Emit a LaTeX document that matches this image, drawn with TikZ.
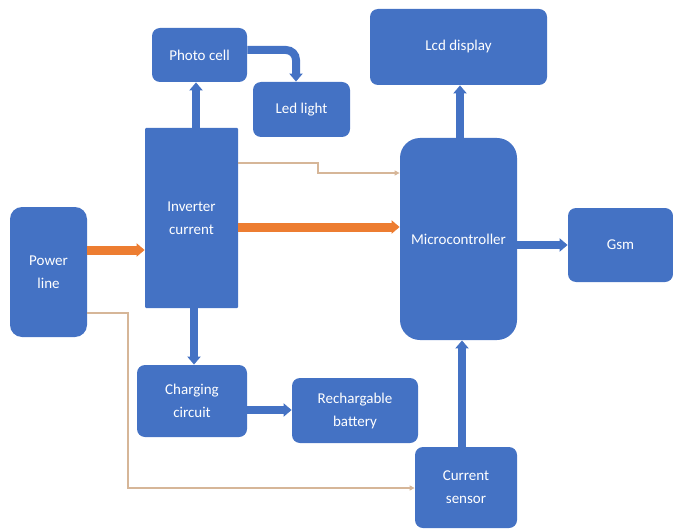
\documentclass[tikz,border=0pt]{standalone}
\usepackage{fontspec}
\setmainfont{Carlito}
\usetikzlibrary{arrows.meta,calc}
\definecolor{boxblue}{HTML}{4472C4}
\definecolor{feedorange}{HTML}{ED7D31}
\definecolor{thinline}{RGB}{214,182,152}
\tikzset {>=Stealth}
\tikzset{
  block/.style={fill=boxblue,text=white,rounded corners=4pt,align=center,
    inner sep=0pt,font=\fontsize{7.5}{11.5}\selectfont},
  flow/.style={draw=boxblue,line width=4pt,-{Triangle[length=4pt,width=6.5pt]}},
  feed/.style={draw=feedorange,line width=4.5pt,-{Triangle[length=4pt,width=6.5pt]}},
  sense/.style={draw=thinline,line width=.7pt,-{Triangle[length=2.5pt,width=2.5pt]}}
}
\begin{document}
\begin{tikzpicture}[x=.5pt,y=-.5pt]
\useasboundingbox (0,0) rectangle (673,529);
% blocks
\node[block,rounded corners=6pt,minimum width=38.5pt,minimum height=65pt]
  (pline) at (48.5,272) {Power\\line};
\node[block,rounded corners=.5pt,minimum width=46.5pt,minimum height=90pt]
  (inverter) at (191.5,218) {Inverter\\current};
\node[block,minimum width=47.5pt,minimum height=27pt]
  (photo) at (199.5,55) {Photo cell};
\node[block,minimum width=48.5pt,minimum height=27.5pt]
  (led) at (301.5,109.5) {Led light};
\node[block,minimum width=88.5pt,minimum height=38pt]
  (lcd) at (458.5,47) {Lcd display};
\node[block,rounded corners=10pt,minimum width=58.5pt,minimum height=101pt]
  (micro) at (458.5,239) {Microcontroller};
\node[block,minimum width=52.5pt,minimum height=37pt]
  (gsm) at (620.5,245) {Gsm};
\node[block,minimum width=55pt,minimum height=36pt]
  (charging) at (192,401) {Charging\\circuit};
\node[block,minimum width=63pt,minimum height=32.5pt]
  (battery) at (355,410.5) {Rechargable\\battery};
\node[block,minimum width=51pt,minimum height=40.5pt]
  (sensor) at (466,487.5) {Current\\sensor};
% power flow
\draw[feed] (pline.east |- 0,250) -- (inverter.west |- 0,250);
\draw[feed] (inverter.east |- 0,227) -- (micro.west |- 0,227);
% thin sense lines
\draw[sense] (inverter.east |- 0,163) -- (318,163) -- (318,173)
  -- (micro.west |- 0,173);
\draw[sense] (pline.east |- 0,313) -- (128,313) -- (128,488)
  -- (sensor.west |- 0,488);
% control flow
\draw[flow] (inverter.north -| 196,0) -- (photo.south -| 196,0);
\draw[flow,rounded corners=5pt] (photo.east |- 0,50) -| (led.north -| 296,0);
\draw[flow] (inverter.south -| 194,0) -- (charging.north -| 194,0);
\draw[flow] (charging.east |- 0,410) -- (battery.west |- 0,410);
\draw[flow] (micro.north -| 460,0) -- (lcd.south -| 460,0);
\draw[flow] (micro.east |- 0,245) -- (gsm.west |- 0,245);
\draw[flow] (sensor.north -| 462,0) -- (micro.south -| 462,0);
\end{tikzpicture}
\end{document}
